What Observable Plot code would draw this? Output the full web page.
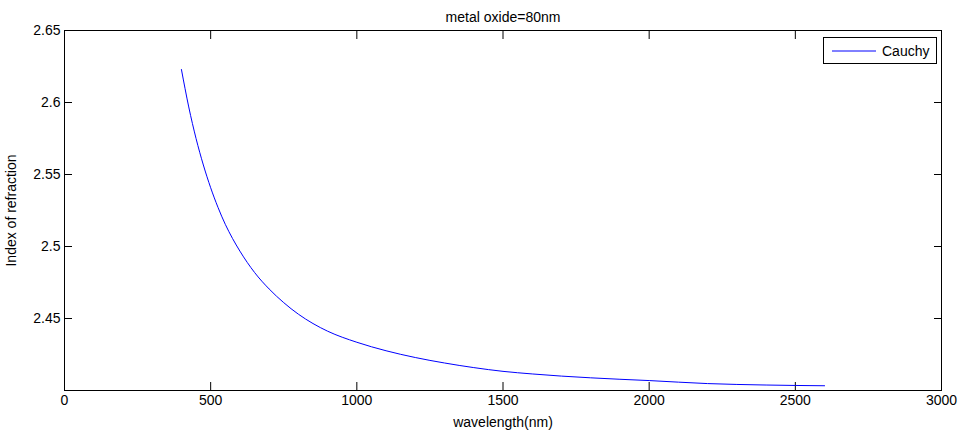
<!DOCTYPE html>
<html>
<head>
<meta charset="utf-8">
<script src="https://cdn.jsdelivr.net/npm/d3@7"></script>
<script src="https://cdn.jsdelivr.net/npm/@observablehq/plot@0.6"></script>
<style>
  html, body { margin: 0; padding: 0; background: #fff; }
  #chart svg { display: block; }
</style>
</head>
<body>
<div id="chart"></div>
<script>
const titleText = "metal oxide=80nm";
const seriesName = "Cauchy";
const xLabel = "wavelength(nm)";
const yLabel = "Index of refraction";
const wavelength = [400, 425, 450, 475, 500, 525, 550, 575, 600, 650, 700, 750, 800, 850, 900, 1000, 1100, 1200, 1300, 1400, 1500, 1600, 1700, 1800, 1900, 2000, 2100, 2200, 2300, 2400, 2500, 2600];
const refIndex = [2.6229, 2.5969, 2.5750, 2.5566, 2.5408, 2.5272, 2.5154, 2.5055, 2.4968, 2.4820, 2.4705, 2.4610, 2.4530, 2.4465, 2.4412, 2.4335, 2.4276, 2.4229, 2.4191, 2.4159, 2.4133, 2.4115, 2.4100, 2.4088, 2.4078, 2.4069, 2.4058, 2.4048, 2.4042, 2.4038, 2.4035, 2.4033];
const xTicks = [0, 500, 1000, 1500, 2000, 2500, 3000];
const yTicks = [2.45, 2.5, 2.55, 2.6, 2.65];
const xDomain = [0, 3000];
const yDomain = [2.4, 2.65];

const data = wavelength.map((w, i) => ({w, n: refIndex[i]}));
const fmt = d => String(d);

const plot = Plot.plot({
  width: 961,
  height: 434,
  marginLeft: 64,
  marginRight: 20,
  marginTop: 30,
  marginBottom: 44,
  style: {fontFamily: "'Liberation Sans', Arial, sans-serif", fontSize: "14px", color: "#000", background: "#fff"},
  x: {domain: xDomain},
  y: {domain: yDomain},
  marks: [
    Plot.frame({stroke: "#000", strokeWidth: 1}),
    Plot.axisX(xTicks, {anchor: "bottom", tickSize: -8, tickPadding: 13, tickFormat: fmt, label: xLabel, labelArrow: "none", labelAnchor: "center", labelOffset: 36, fontSize: 14}),
    Plot.axisX(xTicks, {anchor: "top", tickSize: -8, tickFormat: () => "", label: null}),
    Plot.axisY(yTicks, {anchor: "left", tickSize: -8, tickPadding: 12, tickFormat: fmt, label: yLabel, labelArrow: "none", labelAnchor: "center", labelOffset: 58, fontSize: 14}),
    Plot.axisY(yTicks, {anchor: "right", tickSize: -8, tickFormat: () => "", label: null}),
    Plot.line(data, {x: "w", y: "n", stroke: "#0000ff", strokeWidth: 1, curve: "monotone-x"}),
    Plot.text([titleText], {frameAnchor: "top", dy: -18, fontSize: 14, fill: "#000"})
  ]
});
document.getElementById("chart").appendChild(plot);

// legend (MATLAB style box, top-right inside plot)
const svg = d3.select(plot);
const lg = svg.append("g").attr("class", "legend");
lg.append("rect").attr("x", 823.5).attr("y", 37.5).attr("width", 113).attr("height", 26)
  .attr("fill", "#fff").attr("stroke", "#000").attr("stroke-width", 1);
lg.append("line").attr("x1", 832).attr("x2", 876).attr("y1", 51).attr("y2", 51)
  .attr("stroke", "#0000ff").attr("stroke-width", 1);
lg.append("text").attr("x", 882).attr("y", 51).attr("dy", "0.35em")
  .attr("text-anchor", "start")
  .attr("font-size", 14).attr("fill", "#000").text(seriesName);
</script>
</body>
</html>
